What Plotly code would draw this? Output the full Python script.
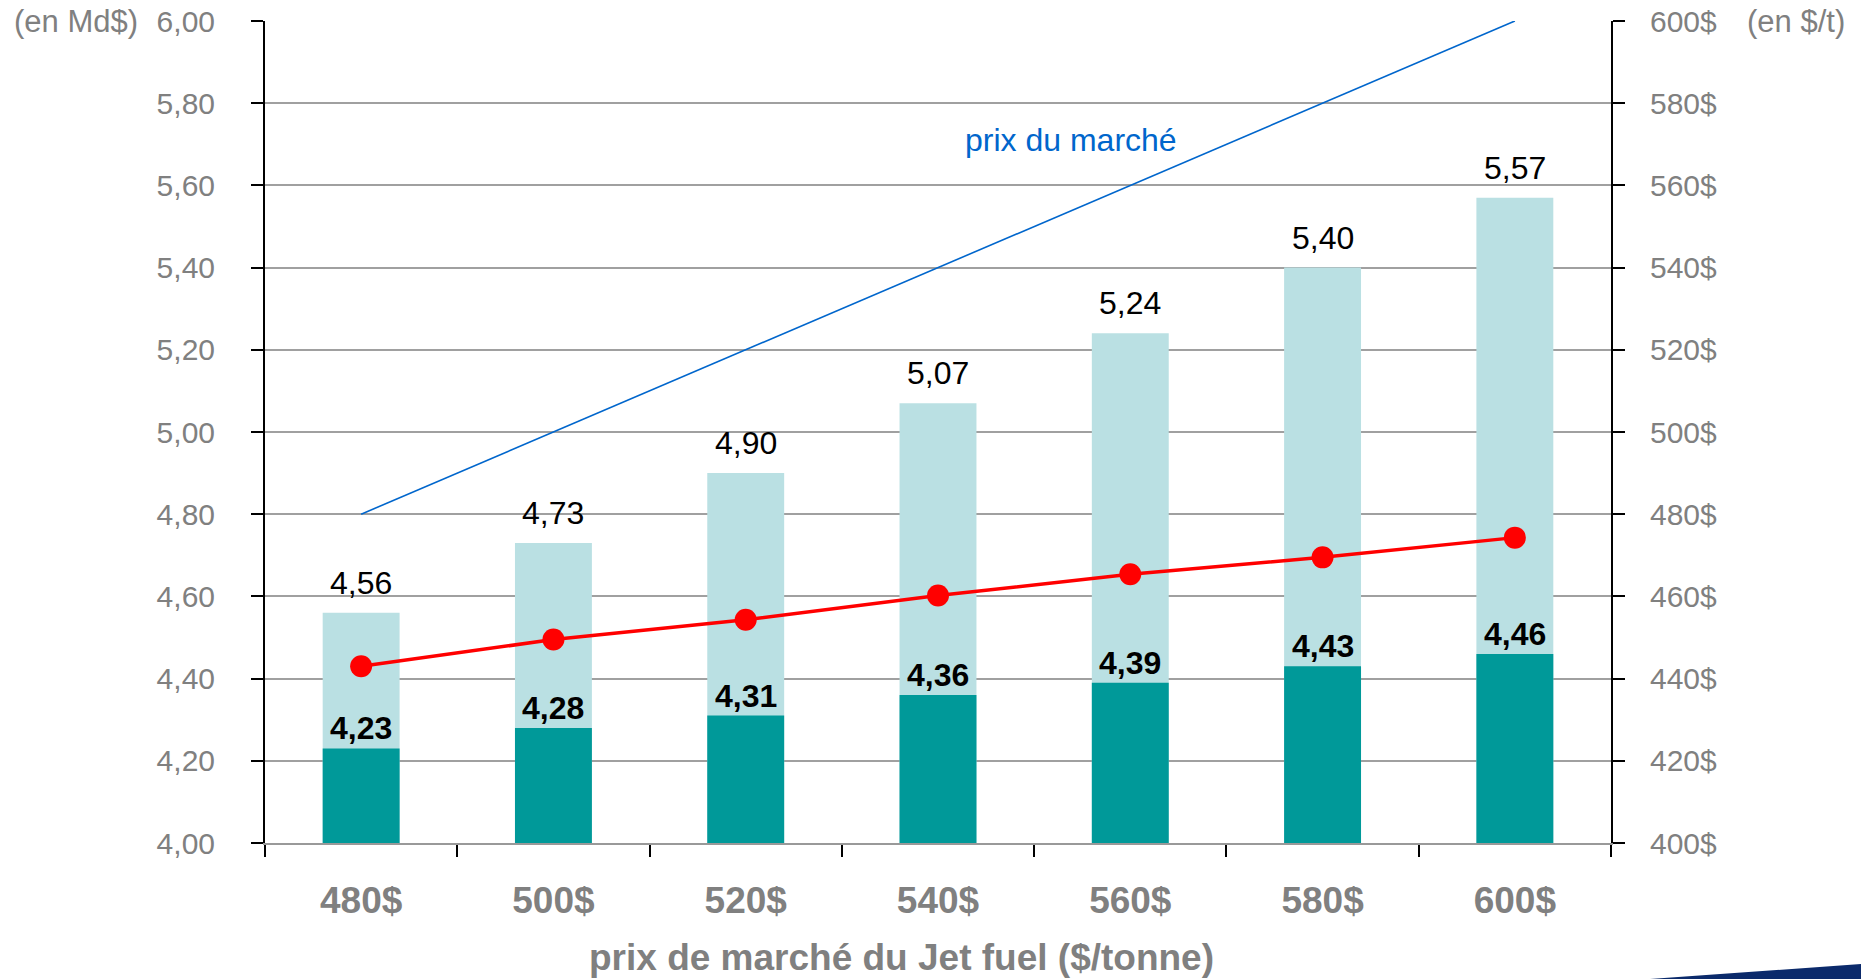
import plotly.graph_objects as go

categories = ["480$", "500$", "520$", "540$", "560$", "580$", "600$"]
total_values = [4.56, 4.73, 4.90, 5.07, 5.24, 5.40, 5.57]
base_values = [4.23, 4.28, 4.31, 4.36, 4.39, 4.43, 4.46]
red_values = [4.43, 4.495, 4.543, 4.602, 4.654, 4.695, 4.743]
market_price = [480, 500, 520, 540, 560, 580, 600]

LIGHT = "#BAE0E3"
DARK = "#009999"
GRAY = "#808080"
FONT = "Liberation Sans, Arial, sans-serif"

W, H = 1861, 979
L, R, T, B = 265, 250, 21, 136
pw, ph = W - L - R, H - T - B


def px(x):
    return (x - L) / pw


def py(y):
    return (H - B - y) / ph


def fmt(v):
    return f"{v:.2f}".replace(".", ",")


fig = go.Figure()
fig.add_trace(go.Bar(x=categories, y=total_values, marker=dict(color=LIGHT, line=dict(width=0)),
                     width=0.4, hoverinfo="skip", showlegend=False))
fig.add_trace(go.Bar(x=categories, y=base_values, marker=dict(color=DARK, line=dict(width=0)),
                     width=0.4, hoverinfo="skip", showlegend=False))
fig.add_trace(go.Scatter(x=categories, y=red_values, mode="lines+markers",
                         line=dict(color="#FF0000", width=3.5),
                         marker=dict(color="#FF0000", size=22), showlegend=False, cliponaxis=False))
fig.add_trace(go.Scatter(x=categories, y=market_price, yaxis="y2", mode="lines",
                         line=dict(color="#0066CC", width=1.6), showlegend=False, cliponaxis=False))

annotations = []
for c, v in zip(categories, total_values):
    annotations.append(dict(x=c, y=v, text=fmt(v), showarrow=False, yanchor="bottom", yshift=10,
                            font=dict(family=FONT, size=32, color="#000000")))
for c, v in zip(categories, base_values):
    annotations.append(dict(x=c, y=v, text=f"<b>{fmt(v)}</b>", showarrow=False, yanchor="bottom", yshift=0,
                            font=dict(family=FONT, size=32, color="#000000")))
annotations.append(dict(x=3.69, y=571, yref="y2", text="prix du marché", showarrow=False,
                        font=dict(family=FONT, size=32, color="#0066CC")))
annotations.append(dict(xref="paper", yref="paper", x=px(12), y=1.0, xanchor="left",
                        yanchor="middle", text="(en Md$)", showarrow=False,
                        font=dict(family=FONT, size=31, color=GRAY)))
annotations.append(dict(xref="paper", yref="paper", x=px(1745), y=1.0, xanchor="left",
                        yanchor="middle", text="(en $/t)", showarrow=False,
                        font=dict(family=FONT, size=31, color=GRAY)))
annotations.append(dict(xref="paper", yref="paper", x=px(901), y=py(957), xanchor="center",
                        yanchor="middle", text="<b>prix de marché du Jet fuel ($/tonne)</b>",
                        showarrow=False, font=dict(family=FONT, size=37, color=GRAY)))

fig.update_layout(
    width=W, height=H,
    margin=dict(l=L, r=R, t=T, b=B, pad=0, autoexpand=False),
    paper_bgcolor="white", plot_bgcolor="white",
    barmode="overlay", bargap=0.6,
    separators=",.",
    font=dict(family=FONT, color=GRAY),
    annotations=annotations,
    shapes=[dict(type="path", xref="paper", yref="paper",
                 path=f"M {px(1650)} {py(979)} L {px(1861)} {py(964)} L {px(1861)} {py(979)} Z",
                 fillcolor="#0B2A6B", line=dict(width=0), layer="above")],
    xaxis=dict(type="category", tickson="boundaries", ticks="outside", ticklen=12, tickwidth=2,
               tickcolor="#000000", showline=True, linecolor="#999999", linewidth=2,
               showgrid=False, ticklabelstandoff=24, automargin=False,
               tickfont=dict(family=FONT, size=37, color=GRAY, weight="bold")),
    yaxis=dict(range=[4, 6], dtick=0.2, tickformat=".2f", ticks="outside", ticklen=12, tickwidth=2,
               tickcolor="#000000", showline=True, linecolor="#000000", linewidth=2,
               showgrid=True, gridcolor="#A0A0A0", gridwidth=2, zeroline=False, automargin=False,
               ticklabelstandoff=30, tickfont=dict(family=FONT, size=30, color=GRAY)),
    yaxis2=dict(range=[400, 600], dtick=20, ticksuffix="$", overlaying="y", side="right",
                ticks="outside", ticklen=12, tickwidth=2, tickcolor="#000000", automargin=False,
                showline=True, linecolor="#000000", linewidth=2, showgrid=False, zeroline=False,
                ticklabelstandoff=19, tickfont=dict(family=FONT, size=30, color=GRAY)),
)

fig.write_html("out.html")
